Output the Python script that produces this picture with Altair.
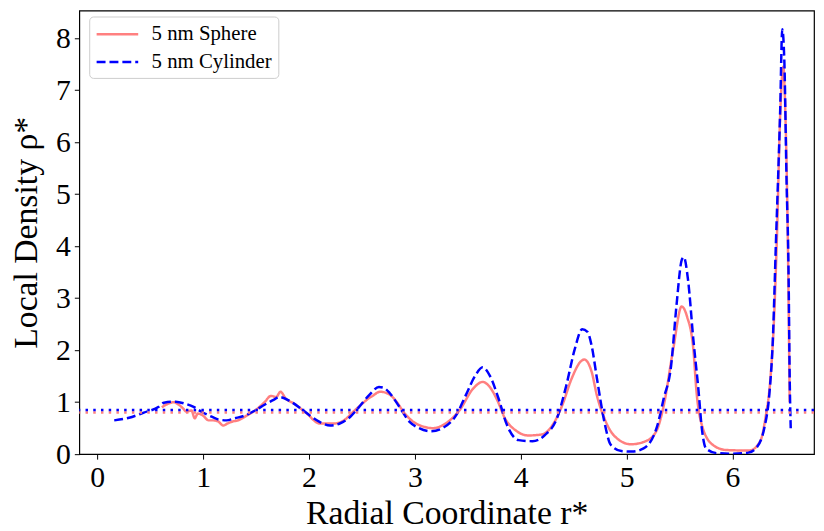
import altair as alt
import pandas as pd

series_names = ["5 nm Sphere", "5 nm Cylinder"]
series_colors = ["#ff8080", "#0000ff"]

sphere_r = [0.61, 0.63, 0.67, 0.72, 0.77, 0.81, 0.84, 0.89, 0.92, 0.95, 1.00, 1.05, 1.09, 1.14,
            1.19, 1.23, 1.28, 1.33, 1.41, 1.49, 1.58, 1.64, 1.69, 1.73, 1.78, 1.86, 1.98, 2.10,
            2.24, 2.33, 2.42, 2.52, 2.56, 2.60, 2.67, 2.75, 2.83, 2.89, 2.98, 3.08, 3.17, 3.29,
            3.42, 3.55, 3.64, 3.70, 3.78, 3.85, 3.95, 4.07, 4.20, 4.29, 4.39, 4.48, 4.57, 4.60,
            4.67, 4.72, 4.79, 4.88, 5.04, 5.18, 5.28, 5.35, 5.44, 5.52, 5.57, 5.63, 5.66, 5.72,
            5.82, 5.94, 6.16, 6.26, 6.31, 6.36, 6.39, 6.42, 6.45, 6.48, 6.50, 6.52, 6.54]
sphere_rho = [0.90, 0.93, 0.97, 1.00, 0.95, 0.88, 0.82, 0.84, 0.69, 0.78, 0.74, 0.65, 0.65, 0.63,
              0.55, 0.59, 0.63, 0.65, 0.74, 0.84, 1.00, 1.12, 1.10, 1.20, 1.07, 0.97, 0.78, 0.59,
              0.59, 0.65, 0.82, 1.00, 1.07, 1.12, 1.20, 1.16, 1.00, 0.82, 0.63, 0.53, 0.50, 0.59,
              0.84, 1.26, 1.39, 1.31, 1.03, 0.69, 0.46, 0.36, 0.38, 0.53, 0.93, 1.45, 1.79, 1.82,
              1.58, 1.12, 0.69, 0.36, 0.19, 0.25, 0.44, 0.93, 2.02, 2.84, 2.65, 2.02, 1.20, 0.50,
              0.17, 0.08, 0.07, 0.24, 0.68, 1.50, 2.50, 4.20, 6.50, 7.45, 6.50, 4.50, 1.00]

cyl_r = [0.16, 0.30, 0.44, 0.58, 0.63, 0.74, 0.83, 0.91, 0.98, 1.08, 1.14, 1.22, 1.30, 1.39,
         1.49, 1.58, 1.67, 1.72, 1.82, 1.92, 2.01, 2.10, 2.20, 2.29, 2.39, 2.47, 2.57, 2.66,
         2.70, 2.76, 2.85, 2.95, 3.04, 3.15, 3.26, 3.39, 3.48, 3.57, 3.64, 3.71, 3.79, 3.87,
         3.98, 4.11, 4.23, 4.34, 4.43, 4.51, 4.58, 4.63, 4.67, 4.72, 4.79, 4.85, 4.95, 5.05,
         5.16, 5.29, 5.35, 5.42, 5.47, 5.52, 5.54, 5.58, 5.63, 5.68, 5.71, 5.75, 5.85, 6.00,
         6.15, 6.22, 6.30, 6.35, 6.38, 6.41, 6.45, 6.47, 6.49, 6.51, 6.53, 6.54, 6.55]
cyl_rho = [0.65, 0.70, 0.80, 0.91, 0.99, 1.01, 0.97, 0.91, 0.82, 0.72, 0.67, 0.65, 0.69, 0.74,
           0.84, 0.95, 1.05, 1.10, 1.02, 0.88, 0.74, 0.62, 0.55, 0.59, 0.72, 0.90, 1.14, 1.29,
           1.28, 1.18, 0.92, 0.62, 0.50, 0.44, 0.50, 0.75, 1.13, 1.51, 1.67, 1.50, 1.07, 0.56,
           0.27, 0.25, 0.37, 0.68, 1.32, 2.02, 2.40, 2.35, 2.08, 1.45, 0.62, 0.18, 0.06, 0.05,
           0.11, 0.55, 1.07, 1.70, 2.84, 3.73, 3.79, 3.35, 2.21, 1.20, 0.50, 0.11, 0.02, 0.01,
           0.03, 0.11, 0.50, 1.20, 2.15, 4.06, 6.59, 8.17, 7.54, 5.31, 3.41, 1.50, 0.50]

bulk_sphere = 0.80
bulk_cylinder = 0.85

x_ticks = [0, 1, 2, 3, 4, 5, 6]
y_ticks = [0, 1, 2, 3, 4, 5, 6, 7, 8]

FONT = "Liberation Serif"

df_s = pd.DataFrame({"r": sphere_r, "rho": sphere_rho, "series": series_names[0]})
df_c = pd.DataFrame({"r": cyl_r, "rho": cyl_rho, "series": series_names[1]})
df_b = pd.DataFrame({"rho": [bulk_sphere, bulk_cylinder], "series": series_names})

x_scale = alt.Scale(domain=[-0.17, 6.77], nice=False, zero=False)
y_scale = alt.Scale(domain=[0, 8.53], nice=False, zero=False)
color_scale = alt.Scale(domain=series_names, range=series_colors)
dash_scale = alt.Scale(domain=series_names, range=[[1, 0], [9, 4]])

x_axis = alt.Axis(values=x_ticks, title="Radial Coordinate r*", grid=False, domain=False,
                  tickColor="black", tickSize=5, tickWidth=1, labelFont=FONT, labelFontSize=30,
                  labelColor="black", labelPadding=4, titleFont=FONT, titleFontSize=34,
                  titleFontWeight="normal", titleColor="black", titlePadding=4)
y_axis = alt.Axis(values=y_ticks, title="Local Density ρ*", grid=False, domain=False,
                  tickColor="black", tickSize=5, tickWidth=1, labelFont=FONT, labelFontSize=30,
                  labelColor="black", labelPadding=4, titleFont=FONT, titleFontSize=34,
                  titleFontWeight="normal", titleColor="black", titlePadding=12)

legend = alt.Legend(title=None, orient="none", legendX=10, legendY=6,
                    symbolType="M-1,0H3", symbolSize=441, symbolStrokeWidth=2.5,
                    labelFont=FONT, labelFontSize=21, labelColor="black", labelOffset=33,
                    fillColor="white", strokeColor="#cccccc", cornerRadius=4, padding=6,
                    rowPadding=6)


def line(df):
    return alt.Chart(df).mark_line(strokeWidth=2.5, clip=True, interpolate="monotone").encode(
        x=alt.X("r:Q", scale=x_scale, axis=x_axis),
        y=alt.Y("rho:Q", scale=y_scale, axis=y_axis),
        color=alt.Color("series:N", scale=color_scale, legend=legend),
        strokeDash=alt.StrokeDash("series:N", scale=dash_scale, legend=legend),
        order="r:Q",
    )


rule_s = alt.Chart(df_b.iloc[[0]]).mark_rule(strokeWidth=2.5, strokeDash=[2.5, 5.3],
                                             color=series_colors[0]).encode(
    y=alt.Y("rho:Q", scale=y_scale))
rule_c = alt.Chart(df_b.iloc[[1]]).mark_rule(strokeWidth=2.5, strokeDash=[2.5, 5.3],
                                             color=series_colors[1]).encode(
    y=alt.Y("rho:Q", scale=y_scale))

chart = alt.layer(line(df_s), line(df_c), rule_s, rule_c).properties(
    width=742, height=448,
    background="white",
    autosize=alt.AutoSizeParams(type="none"),
    padding={"left": 72, "top": 0, "right": 2, "bottom": 75},
).configure_view(stroke="black", strokeWidth=1.2)

chart.save("out.html", embed_options={"renderer": "svg", "actions": False})
